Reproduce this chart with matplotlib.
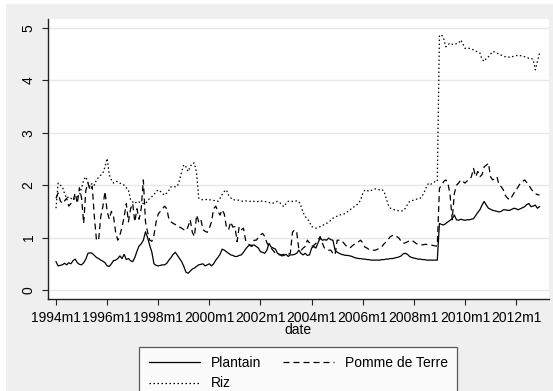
import matplotlib
matplotlib.use("Agg")
import matplotlib.pyplot as plt
from matplotlib.patches import Rectangle

# monthly prices, 1994m1 .. 2012m12 (one row per year)
plantain = [
    0.54, 0.46, 0.47, 0.48, 0.51, 0.48, 0.52, 0.50, 0.56, 0.59, 0.52, 0.49,
    0.48, 0.52, 0.59, 0.70, 0.71, 0.70, 0.66, 0.62, 0.60, 0.57, 0.55, 0.52,
    0.46, 0.45, 0.50, 0.56, 0.57, 0.60, 0.65, 0.60, 0.68, 0.58, 0.60, 0.56,
    0.54, 0.62, 0.74, 0.84, 0.88, 0.95, 1.11, 1.00, 0.85, 0.72, 0.50, 0.47,
    0.46, 0.47, 0.48, 0.48, 0.51, 0.57, 0.62, 0.68, 0.72, 0.66, 0.60, 0.54,
    0.45, 0.34, 0.32, 0.36, 0.40, 0.42, 0.45, 0.48, 0.49, 0.50, 0.46, 0.48,
    0.50, 0.46, 0.50, 0.57, 0.62, 0.68, 0.78, 0.76, 0.73, 0.70, 0.67, 0.66,
    0.64, 0.64, 0.66, 0.67, 0.72, 0.78, 0.83, 0.86, 0.85, 0.86, 0.83, 0.80,
    0.73, 0.72, 0.70, 0.76, 0.89, 0.82, 0.80, 0.78, 0.70, 0.68, 0.65, 0.66,
    0.68, 0.64, 0.67, 0.67, 0.68, 0.70, 0.76, 0.70, 0.67, 0.70, 0.66, 0.67,
    0.80, 0.83, 0.80, 0.90, 0.99, 0.95, 0.96, 0.95, 0.99, 0.96, 0.95, 0.76,
    0.72, 0.70, 0.68, 0.67, 0.66, 0.66, 0.65, 0.64, 0.62, 0.61, 0.60, 0.60,
    0.59, 0.59, 0.58, 0.58, 0.57, 0.57, 0.57, 0.57, 0.57, 0.58, 0.58, 0.59,
    0.59, 0.60, 0.60, 0.61, 0.62, 0.63, 0.65, 0.69, 0.70, 0.68, 0.64, 0.62,
    0.61, 0.60, 0.59, 0.59, 0.58, 0.58, 0.57, 0.57, 0.57, 0.57, 0.57, 0.57,
    1.27, 1.25, 1.24, 1.27, 1.30, 1.33, 1.36, 1.43, 1.34, 1.33, 1.35, 1.34,
    1.33, 1.34, 1.34, 1.35, 1.36, 1.42, 1.48, 1.53, 1.62, 1.69, 1.62, 1.56,
    1.54, 1.52, 1.51, 1.50, 1.49, 1.50, 1.53, 1.53, 1.52, 1.52, 1.54, 1.56,
    1.55, 1.53, 1.55, 1.57, 1.59, 1.63, 1.65, 1.59, 1.60, 1.62, 1.56, 1.59,
]

pomme = [
    1.75, 1.85, 1.70, 1.65, 1.70, 1.75, 1.60, 1.65, 1.70, 1.85, 1.65, 1.95,
    1.75, 1.27, 1.90, 2.04, 1.90, 1.98, 1.40, 0.95, 0.95, 1.40, 1.59, 1.88,
    1.50, 1.35, 1.50, 1.40, 1.10, 0.95, 1.05, 1.20, 1.40, 1.65, 1.30, 1.55,
    1.65, 1.30, 1.55, 1.35, 1.55, 2.10, 1.30, 1.10, 0.95, 0.93, 1.05, 1.30,
    1.45, 1.50, 1.55, 1.60, 1.55, 1.35, 1.30, 1.27, 1.25, 1.21, 1.20, 1.18,
    1.15, 1.13, 1.21, 1.34, 1.10, 1.02, 1.43, 1.30, 1.35, 1.15, 1.12, 1.10,
    1.18, 1.30, 1.55, 1.60, 1.50, 1.43, 1.53, 1.45, 1.20, 1.15, 1.30, 1.20,
    1.21, 0.92, 1.21, 1.15, 1.18, 0.95, 0.90, 0.85, 0.83, 0.95, 0.95, 1.00,
    1.05, 1.08, 1.02, 0.90, 0.83, 0.80, 0.75, 0.70, 0.68, 0.67, 0.67, 0.68,
    0.67, 0.68, 0.70, 1.10, 1.15, 1.10, 0.78, 0.75, 0.80, 0.83, 0.95, 0.90,
    0.83, 0.85, 0.89, 0.95, 1.02, 0.90, 0.80, 0.78, 0.76, 0.76, 0.70, 0.67,
    0.95, 0.95, 0.95, 0.90, 0.85, 0.82, 0.80, 0.84, 0.87, 0.89, 0.92, 0.95,
    0.90, 0.82, 0.80, 0.77, 0.76, 0.76, 0.76, 0.78, 0.80, 0.83, 0.88, 0.92,
    0.97, 1.02, 1.04, 1.05, 1.02, 0.99, 0.93, 0.89, 0.90, 0.92, 0.94, 0.95,
    0.92, 0.89, 0.87, 0.86, 0.86, 0.87, 0.87, 0.86, 0.86, 0.85, 0.84, 0.84,
    1.94, 2.00, 2.07, 2.10, 2.04, 1.81, 1.34, 1.84, 2.00, 2.04, 2.10, 2.07,
    2.04, 2.08, 2.10, 2.16, 2.32, 2.16, 2.26, 2.16, 2.20, 2.35, 2.38, 2.42,
    2.16, 2.10, 2.13, 2.16, 2.00, 1.97, 1.91, 1.80, 1.75, 1.72, 1.78, 1.85,
    1.91, 1.97, 2.04, 2.07, 2.10, 2.05, 2.00, 1.93, 1.88, 1.84, 1.82, 1.81,
]

riz = [
    1.56, 2.04, 2.00, 1.97, 1.84, 1.75, 1.78, 1.75, 1.72, 1.75, 1.78, 1.81,
    1.95, 2.10, 2.16, 2.05, 1.97, 2.04, 2.00, 2.10, 2.15, 2.19, 2.23, 2.35,
    2.51, 2.20, 2.10, 2.04, 2.07, 2.07, 2.04, 2.02, 2.00, 1.95, 1.91, 1.72,
    1.68, 1.65, 1.69, 1.68, 1.66, 1.65, 1.65, 1.70, 1.75, 1.78, 1.82, 1.88,
    1.91, 1.88, 1.84, 1.81, 1.85, 1.90, 1.97, 1.97, 1.97, 1.98, 2.10, 2.26,
    2.39, 2.35, 2.26, 2.35, 2.42, 2.42, 2.23, 1.75, 1.73, 1.72, 1.72, 1.73,
    1.72, 1.72, 1.71, 1.70, 1.69, 1.75, 1.82, 1.88, 1.91, 1.81, 1.76, 1.72,
    1.72, 1.72, 1.71, 1.70, 1.69, 1.70, 1.69, 1.69, 1.70, 1.69, 1.68, 1.69,
    1.70, 1.69, 1.69, 1.68, 1.67, 1.65, 1.66, 1.68, 1.69, 1.67, 1.62, 1.59,
    1.65, 1.69, 1.70, 1.69, 1.69, 1.70, 1.69, 1.60, 1.48, 1.40, 1.36, 1.30,
    1.21, 1.20, 1.18, 1.19, 1.21, 1.23, 1.25, 1.27, 1.30, 1.33, 1.37, 1.39,
    1.41, 1.43, 1.44, 1.45, 1.46, 1.50, 1.53, 1.56, 1.59, 1.62, 1.65, 1.72,
    1.84, 1.91, 1.90, 1.88, 1.90, 1.91, 1.93, 1.92, 1.91, 1.92, 1.88, 1.75,
    1.62, 1.56, 1.54, 1.53, 1.52, 1.51, 1.51, 1.51, 1.56, 1.63, 1.69, 1.70,
    1.72, 1.73, 1.74, 1.75, 1.80, 1.88, 1.98, 2.04, 2.02, 2.04, 2.07, 2.07,
    4.85, 4.87, 4.80, 4.64, 4.68, 4.71, 4.69, 4.68, 4.70, 4.71, 4.77, 4.70,
    4.61, 4.61, 4.61, 4.60, 4.58, 4.56, 4.54, 4.52, 4.40, 4.36, 4.42, 4.45,
    4.50, 4.55, 4.54, 4.52, 4.50, 4.48, 4.46, 4.45, 4.45, 4.44, 4.45, 4.46,
    4.47, 4.48, 4.47, 4.46, 4.45, 4.44, 4.42, 4.42, 4.40, 4.20, 4.36, 4.52,
]

first_year = 1994
tick_years = [1994, 1996, 1998, 2000, 2002, 2004, 2006, 2008, 2010, 2012]
y_ticks = [0, 1, 2, 3, 4, 5]

plt.rcParams['font.family'] = ['Liberation Sans', 'DejaVu Sans']
plt.rcParams['font.size'] = 10

# Stata-style monthly index: 0 = 1994m1
months = list(range(len(plantain)))

W, H = 553, 391
fig = plt.figure(figsize=(W / 100, H / 100), dpi=100, facecolor='white')
fig.patches.append(Rectangle((6 / W, 0), 1 - 6 / W, 1 - 4 / H,
                             transform=fig.transFigure, facecolor='#efefef',
                             edgecolor='none', zorder=-5))

left, right, top, bottom = 48, 548.7, 19, 298.7
ax = fig.add_axes([left / W, 1 - bottom / H, (right - left) / W, (bottom - top) / H])
ax.set_facecolor('white')

lw = 0.9
l_pl, = ax.plot(months, plantain, color='black', lw=lw, label='Plantain')
l_po, = ax.plot(months, pomme, color='black', lw=lw, dashes=(4.8, 3.2),
                label='Pomme de Terre')
l_ri, = ax.plot(months, riz, color='black', lw=lw, dashes=(1.2, 2.0),
                label='Riz')

ax.set_xlim(-3.76, 231.3)
ax.set_ylim(-0.166, 5.17)

ax.set_xticks([(y - first_year) * 12 for y in tick_years])
ax.set_xticklabels([f"{y}m1" for y in tick_years])
ax.set_yticks(y_ticks)
ax.set_yticklabels([str(v) for v in y_ticks], rotation=90, va='center')

ax.grid(axis='y', color='#e8e8e8', lw=1)
ax.set_axisbelow(True)
for s in ['top', 'right']:
    ax.spines[s].set_visible(False)
for s in ['left', 'bottom']:
    ax.spines[s].set_color('#222222')
    ax.spines[s].set_linewidth(1)
ax.tick_params(axis='both', length=4, width=0.8, color='#222222')
ax.tick_params(axis='x', pad=4.5)
ax.tick_params(axis='y', pad=5)

ax.set_xlabel('date', labelpad=0)
ax.xaxis.set_label_coords(0.5, -(330 - bottom) / (bottom - top))
ax.xaxis.label.set_va('center')

leg = fig.legend([l_pl, l_ri, l_po], ['Plantain', 'Riz', 'Pomme de Terre'],
                 ncol=2, loc='upper center',
                 bbox_to_anchor=((left + right) / 2 / W, 1 - 346.5 / H),
                 bbox_transform=fig.transFigure,
                 frameon=True, fancybox=False, edgecolor='#333333',
                 handlelength=3.67, handletextpad=0.75, columnspacing=1.6,
                 borderpad=0.7, labelspacing=0.45, borderaxespad=0)
leg.get_frame().set_linewidth(0.9)

fig.savefig('out.png', dpi=100, facecolor=fig.get_facecolor())
